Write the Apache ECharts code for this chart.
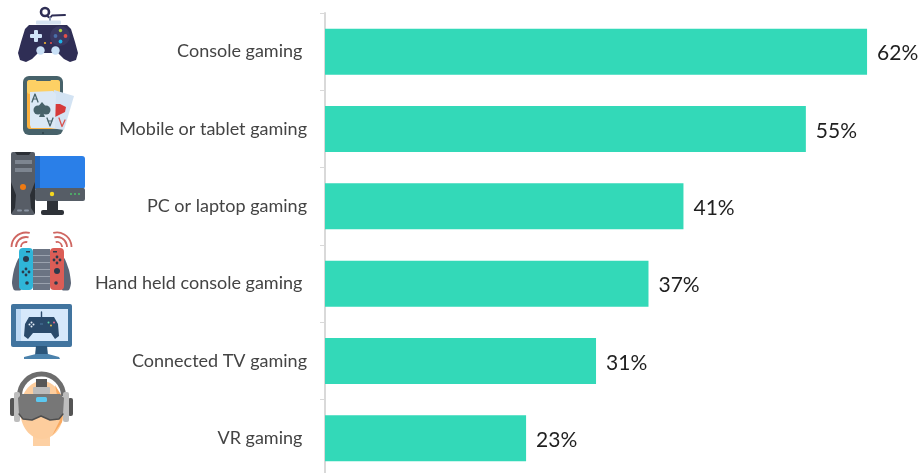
<!DOCTYPE html>
<html>
<head>
<meta charset="utf-8">
<style>html,body{margin:0;padding:0;background:#fff;overflow:hidden}#chart{width:922px;height:473px}</style>
<script src="https://cdn.jsdelivr.net/npm/echarts@6/dist/echarts.min.js"></script>
</head>
<body>
<div id="chart"></div>
<script>
// Share of respondents by gaming platform
const categories = ['Console gaming ', 'Mobile or tablet gaming', 'PC or laptop gaming', 'Hand held console gaming ', 'Connected TV gaming', 'VR gaming '];
const shares = [62, 55, 41, 37, 31, 23];

// Small drawing helpers for the pictograms beside the axis
const R = (x, y, w, h, fill, r) => ({type: 'rect', silent: true, shape: {x, y, width: w, height: h, r: r || 0}, style: {fill}});
const C = (cx, cy, r, fill) => ({type: 'circle', silent: true, shape: {cx, cy, r}, style: {fill}});
const E = (cx, cy, rx, ry, fill) => ({type: 'ellipse', silent: true, shape: {cx, cy, rx, ry}, style: {fill}});
const P = (points, fill, smooth) => ({type: 'polygon', silent: true, shape: {points, smooth: smooth || 0}, style: {fill}});
const L = (points, stroke, lineWidth) => ({type: 'polyline', silent: true, shape: {points}, style: {stroke, lineWidth, fill: null, lineCap: 'round', lineJoin: 'round'}});
const A = (cx, cy, r, startDeg, endDeg, stroke, lineWidth) => ({type: 'arc', silent: true, shape: {cx, cy, r, startAngle: startDeg * Math.PI / 180, endAngle: endDeg * Math.PI / 180, clockwise: true}, style: {stroke, lineWidth, fill: null}});

const gamepadIcon = [
  A(45, 12, 4, 0, 360, '#2f2e55', 2.6),
  L([[47, 16], [50, 18], [52, 15.5], [65, 15]], '#2f2e55', 2),
  L([[50, 18], [50, 21]], '#8e9ab5', 2),
  R(36, 20.5, 25, 4, '#d5e2f1', 1),
  P([[29, 25], [67, 25], [71, 29], [75, 42], [78, 53], [76, 60], [70, 62], [64, 59], [58, 53], [38, 53], [32, 59], [26, 62], [20, 60], [18, 53], [21, 42], [25, 29]], '#2f2e55'),
  R(30, 34, 12, 4, '#cfe3f8', 1), R(34, 30, 4, 12, '#cfe3f8', 1),
  C(60, 36, 10, '#3a3962'),
  C(60.5, 30.5, 1.7, '#a9cf3f'), C(65.5, 36, 1.9, '#e2504b'), C(60.5, 41.5, 1.9, '#1fb1e6'), C(55.5, 36, 1.9, '#4a6ea8'),
  C(45, 43, 1.1, '#f2b632'), C(51, 43, 1.1, '#e2504b'),
  C(40.5, 50.5, 4.2, '#c9e0f6'), C(55.5, 50.5, 4.2, '#c9e0f6')
];

const cardsIcon = [
  R(23, 76, 40, 59, '#47626a', 6),
  R(27, 80, 33, 49, '#fbb13f', 3),
  R(27, 80, 33, 14, '#fdd064', 3),
  R(36, 78, 15, 3, '#47626a', 1),
  P([[54, 90], [74, 96], [64, 130], [50, 128]], '#d3e3f3'),
  P([[55, 104], [60, 104], [66, 107], [65, 112], [55, 117]], '#d63a3a'),
  P([[30, 92], [53, 91], [56, 94], [55, 128], [31, 128], [30, 125]], '#dbe8f5'),
  C(38, 110, 4.5, '#47626a'), C(46, 110, 4.5, '#47626a'), P([[42, 102], [36, 109], [48, 109]], '#47626a'),
  P([[42, 110], [39, 117], [45, 117]], '#47626a'),
  L([[32, 102], [35, 94], [38, 102]], '#47626a', 1.3), L([[33.2, 99], [36.8, 99]], '#47626a', 1),
  L([[47, 118], [50, 126], [53, 118]], '#47626a', 1.3), L([[48.2, 121], [51.8, 121]], '#47626a', 1),
  L([[59, 118], [62, 126.5], [65, 120]], '#d9534f', 1.3),
  C(43, 133, 1, '#2d4248')
];

const desktopIcon = [
  R(35, 156, 50, 33, '#2a7fe8', 3),
  R(35, 156, 5, 33, '#2368bf'),
  R(35, 188, 50, 13, '#565d66', 2),
  C(52, 194, 2.2, '#f4d71f'),
  C(71, 194, 1, '#4cc06a'), C(75, 194, 1, '#4cc06a'), C(79, 194, 1, '#4cc06a'),
  R(47, 201, 11, 10, '#2e3238'),
  R(41, 210, 23, 5, '#2e3238', 2),
  R(11, 152, 24, 63, '#575d66', 2),
  P([[15, 152], [31, 152], [29, 155], [17, 155]], '#2b2f35'),
  P([[11, 182], [16, 195], [15, 208], [11, 214]], '#2b2f35'),
  P([[35, 182], [30, 195], [31, 208], [35, 214]], '#2b2f35'),
  R(15, 160, 17, 4, '#7d8590'), R(15, 168, 17, 4, '#7d8590'),
  C(23, 187, 3, '#ee7a12'),
  R(17, 209.5, 5, 2, '#8b95a3', 1), R(24, 209.5, 5, 2, '#8b95a3', 1)
];

const handheldIcon = [
  A(26, 247, 5, 180, 285, '#cf6661', 1.8), A(26, 247, 10, 180, 285, '#cf6661', 1.8), A(26, 247, 14.5, 180, 285, '#cf6661', 1.8),
  A(57, 247, 5, 255, 360, '#cf6661', 1.8), A(57, 247, 10, 255, 360, '#cf6661', 1.8), A(57, 247, 14.5, 255, 360, '#cf6661', 1.8),
  P([[19, 258], [14, 270], [12, 283], [14, 290], [21, 290], [24, 280]], '#5b6576', 0.2),
  P([[64, 258], [69, 270], [71, 283], [69, 290], [62, 290], [60, 280]], '#5b6576', 0.2),
  R(33, 249, 17, 41, '#6b7483'),
  R(19, 248, 14, 42, '#2fb5d8', 4),
  R(50, 248, 14, 42, '#db5d56', 4),
  R(33, 255, 17, 1, '#9aa2ae'), R(33, 262, 17, 1, '#9aa2ae'), R(33, 269, 17, 1, '#9aa2ae'), R(33, 276, 17, 1, '#9aa2ae'), R(33, 283, 17, 1, '#9aa2ae'),
  C(26, 259, 3, '#2b3a4c'), C(57, 271, 3, '#2b3a4c'),
  C(26, 269, 1.4, '#2b3a4c'), C(26, 275, 1.4, '#2b3a4c'), C(23, 272, 1.4, '#2b3a4c'), C(29, 272, 1.4, '#2b3a4c'),
  C(57, 257, 1.4, '#2b3a4c'), C(57, 263, 1.4, '#2b3a4c'), C(54, 260, 1.4, '#2b3a4c'), C(60, 260, 1.4, '#2b3a4c'),
  C(27, 283, 1.8, '#2b3a4c'), C(56, 283, 1.8, '#2b3a4c'),
  R(26, 251, 4, 1.5, '#2b3a4c'), R(53, 251, 4, 1.5, '#2b3a4c')
];

const tvIcon = [
  R(11, 304, 61, 43, '#41749f', 2),
  R(16, 309, 52, 32, '#d6e8fb'),
  R(16, 309, 5, 32, '#bcd8f4'),
  P([[36, 346], [47, 346], [48, 355], [35, 355]], '#2c567a'),
  P([[24, 357], [36, 354], [48, 354], [59, 357], [60, 359], [24, 359]], '#4b82ac'),
  L([[41.5, 312], [41.5, 317]], '#2c4a6b', 1.4),
  P([[29, 317], [54, 317], [58, 324], [59, 336], [55, 339], [51, 333], [33, 333], [28, 339], [24, 336], [25, 324]], '#2a4a6b'),
  C(31.5, 322.5, 1, '#e8f1fb'), C(31.5, 326.5, 1, '#e8f1fb'), C(29.5, 324.5, 1, '#e8f1fb'), C(33.5, 324.5, 1, '#e8f1fb'),
  C(48.5, 322.5, 1, '#59d3a8'), C(54, 322.5, 1, '#e86a8c'), C(51, 325.5, 1, '#e8c04a'),
  R(40, 323.5, 3, 1, '#4d7aa3')
];

const vrIcon = [
  R(33, 434, 17, 12, '#fdd0a3'),
  E(42, 410, 22, 29, '#fdcd9d'),
  P([[55, 385], [64, 400], [62, 422], [52, 436], [60, 420], [58, 400]], '#f9a95f'),
  A(41.5, 396, 22, 180, 360, '#6d6d6d', 5),
  R(36, 379, 11, 9, '#575757'),
  R(33, 387, 17, 7, '#bcbcbc', 1),
  R(10, 398, 5, 18, '#555555', 2), R(68, 398, 5, 18, '#555555', 2),
  R(14, 392, 6, 30, '#bdbdbd', 2), R(63, 392, 6, 30, '#bdbdbd', 2),
  P([[22, 394], [60, 394], [64, 398], [63, 414], [59, 419], [50, 420], [41, 416], [32, 420], [23, 419], [19, 414], [18, 398]], '#777777'),
  L([[19, 414], [23, 419], [32, 420], [41, 416], [50, 420], [59, 419], [63, 414]], '#4e4e4e', 1.4),
  R(36, 397, 11, 5, '#5cc8f0', 1.5)
];

const iconElements = [gamepadIcon, cardsIcon, desktopIcon, handheldIcon, tvIcon, vrIcon].flat();

const chart = echarts.init(document.getElementById('chart'), null, {renderer: 'canvas'});
chart.setOption({
  animation: false,
  backgroundColor: '#ffffff',
  textStyle: {fontFamily: 'Lato, "Open Sans", sans-serif'},
  grid: {left: 325, top: 13, width: 612, height: 464, containLabel: false, outerBoundsMode: 'none'},
  xAxis: {type: 'value', min: 0, max: 70, show: false},
  yAxis: {
    type: 'category',
    inverse: true,
    offset: 1,
    data: categories,
    axisLine: {show: true, lineStyle: {color: '#d9d9d9', width: 2}},
    axisTick: {show: true, length: 5, lineStyle: {color: '#d9d9d9', width: 1}},
    axisLabel: {margin: 17, fontSize: 18, color: '#444444', fontFamily: 'Lato, sans-serif'}
  },
  series: [{
    type: 'bar',
    data: shares,
    barWidth: 46,
    itemStyle: {color: '#33d9b8'},
    label: {
      show: true,
      position: 'right',
      distance: 10,
      offset: [0, 2],
      formatter: '{c}%',
      fontSize: 21,
      color: '#1f1f1f',
      fontFamily: 'Lato, sans-serif'
    }
  }],
  graphic: {elements: iconElements}
});
</script>
</body>
</html>
